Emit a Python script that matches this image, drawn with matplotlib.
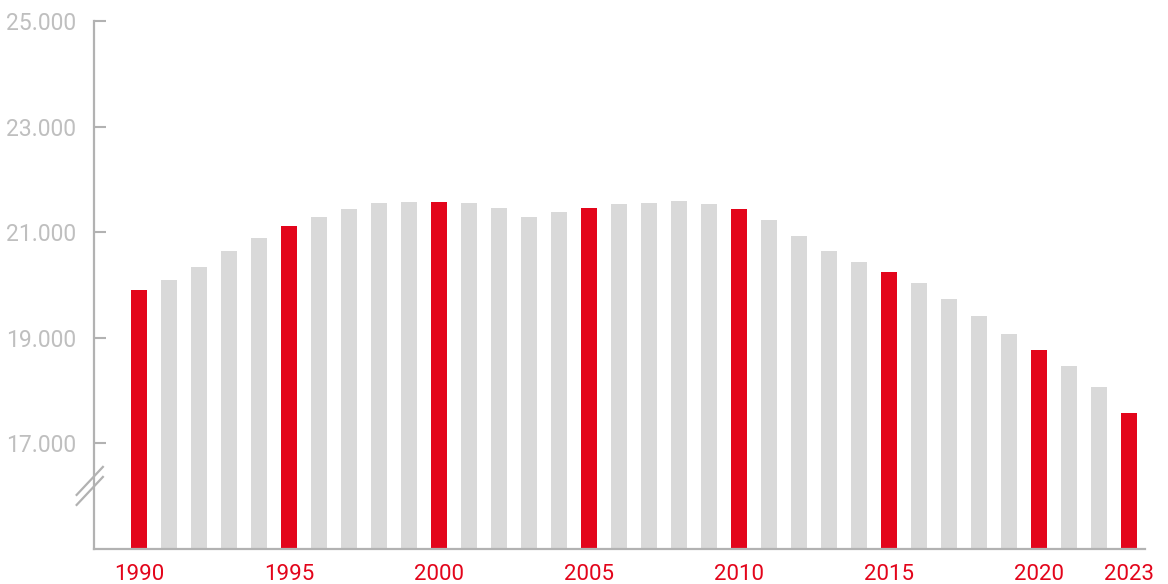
import numpy as np
import matplotlib.pyplot as plt

years = list(range(1990, 2024))
values = [19900, 20100, 20350, 20650, 20900, 21120, 21290, 21440, 21560, 21580,
          21580, 21560, 21460, 21290, 21390, 21460, 21540, 21560, 21600, 21540,
          21440, 21240, 20920, 20650, 20440, 20250, 20030, 19740, 19420, 19080,
          18760, 18460, 18060, 17570]
label_years = [1990, 1995, 2000, 2005, 2010, 2015, 2020, 2023]
yticks = [17000, 19000, 21000, 23000, 25000]
ytick_labels = ['17.000', '19.000', '21.000', '23.000', '25.000']

red = '#e3051b'
light = '#d9d9d9'
axis_gray = '#b2b2b2'
text_gray = '#bfbfbf'

plt.rcParams['font.family'] = ['Roboto', 'DejaVu Sans']

fig = plt.figure(figsize=(11.68, 5.84), dpi=100)
ax = fig.add_axes([0.0809, 0.0599, 0.8996, 0.9041])

colors = [red if y in label_years else light for y in years]
ax.bar(years, values, width=0.53, color=colors, bottom=0)

ax.set_ylim(15000, 25000)
ax.set_xlim(1988.52, 2023.55)

ax.set_yticks(yticks)
ax.set_yticklabels(ytick_labels, color=text_gray, fontsize=16.5)
ax.set_xticks(label_years)
ax.set_xticklabels([str(y) for y in label_years], color=red, fontsize=16)

ax.tick_params(axis='y', direction='in', length=8.5, width=1.5, color=axis_gray, pad=13)
ax.tick_params(axis='x', length=0, pad=10.5)

for s in ['top', 'right']:
    ax.spines[s].set_visible(False)
for s in ['left', 'bottom']:
    ax.spines[s].set_color(axis_gray)
    ax.spines[s].set_linewidth(1.6)

# axis break marks on the y axis
for yc in [0.129, 0.110]:
    ax.plot([-0.017, 0.008], [yc - 0.0265, yc + 0.0265], transform=ax.transAxes,
            color=axis_gray, linewidth=1.6, clip_on=False)

fig.savefig('out.png', dpi=100)
